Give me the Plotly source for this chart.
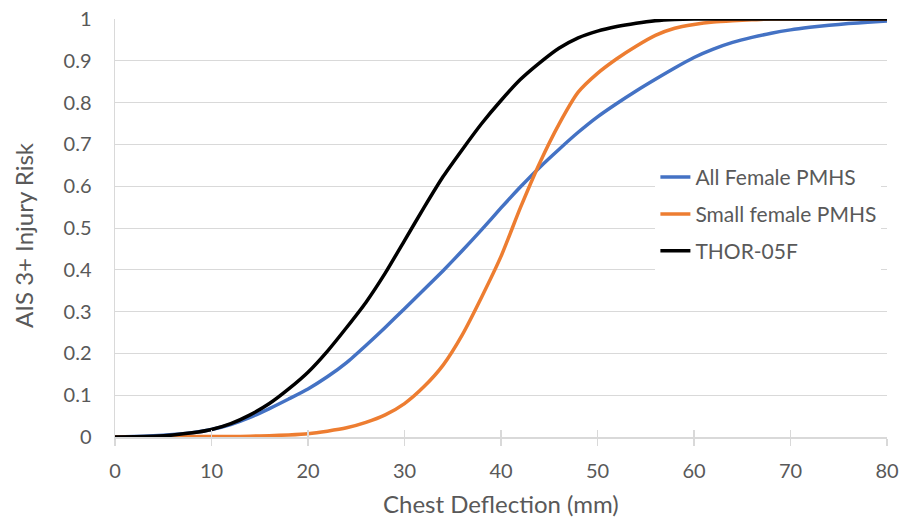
import plotly.graph_objects as go

deflection_mm = [0, 2, 4, 6, 8, 10, 12, 14, 16, 18, 20, 22, 24, 26, 28, 30, 32, 34, 36, 38, 40,
                 42, 44, 46, 48, 50, 52, 54, 56, 58, 60, 62, 64, 66, 68, 70, 72, 74, 76, 78, 80]

all_female_pmhs = [0, 0.001, 0.003, 0.006, 0.010, 0.018, 0.030, 0.047, 0.068, 0.091, 0.115, 0.144,
                   0.178, 0.219, 0.262, 0.307, 0.352, 0.398, 0.446, 0.496, 0.548,
                   0.598, 0.645, 0.688, 0.729, 0.766, 0.798, 0.828, 0.856, 0.883, 0.908, 0.928,
                   0.944, 0.956, 0.966, 0.974, 0.980, 0.985, 0.989, 0.992, 0.995]

small_female_pmhs = [0, 0, 0, 0.0005, 0.001, 0.001, 0.001, 0.002, 0.003, 0.005, 0.008, 0.014,
                     0.022, 0.035, 0.053, 0.080, 0.120, 0.172, 0.245, 0.335, 0.432,
                     0.548, 0.655, 0.748, 0.825, 0.870, 0.905, 0.935, 0.961, 0.978, 0.987, 0.993,
                     0.996, 0.998, 1.0, 1.0, 1.0, 1.0, 1.0, 1.0, 1.0]

thor_05f = [0, 0.0005, 0.002, 0.005, 0.010, 0.018, 0.032, 0.053, 0.080, 0.115, 0.155, 0.205,
            0.262, 0.322, 0.392, 0.470, 0.548, 0.623, 0.688, 0.750, 0.805,
            0.855, 0.895, 0.930, 0.955, 0.971, 0.982, 0.990, 0.996, 0.999, 1.0, 1.0,
            1.0, 1.0, 1.0, 1.0, 1.0, 1.0, 1.0, 1.0, 1.0]

series_names = ["All Female PMHS", "Small female PMHS", "THOR-05F"]
series_colors = ["#4472C4", "#ED7D31", "#000000"]

x_tickvals = [0, 10, 20, 30, 40, 50, 60, 70, 80]
y_tickvals = [0, 0.1, 0.2, 0.3, 0.4, 0.5, 0.6, 0.7, 0.8, 0.9, 1]
y_ticktext = ["0", "0.1", "0.2", "0.3", "0.4", "0.5", "0.6", "0.7", "0.8", "0.9", "1"]

FONT = "Lato, 'Open Sans', sans-serif"
TXT = "#595959"
GRID = "#D9D9D9"

fig = go.Figure()
for name, ys, col in zip(series_names, [all_female_pmhs, small_female_pmhs, thor_05f], series_colors):
    fig.add_trace(go.Scatter(
        x=deflection_mm, y=ys, mode="lines", name=name, legendgroup=name,
        line=dict(color=col, width=3.5, shape="spline", smoothing=0.6),
    ))

# invisible trace on overlay axis to carry inside ticks (crossing tick marks)
fig.add_trace(go.Scatter(x=[0, 80], y=[0, 1], xaxis="x2", mode="lines",
                         line=dict(width=0), showlegend=False, hoverinfo="skip"))

fig.update_layout(
    width=901, height=519,
    margin=dict(l=115, r=14, t=19, b=82, autoexpand=False),
    paper_bgcolor="white", plot_bgcolor="white",
    font=dict(family=FONT, color=TXT, size=20),
    showlegend=True,
    legend=dict(x=0.70, y=0.67, xanchor="left", yanchor="top",
                bgcolor="white", borderwidth=0, tracegroupgap=6.5,
                font=dict(family=FONT, size=21, color=TXT)),
    xaxis=dict(range=[0, 80], tickvals=x_tickvals, showgrid=False, zeroline=False,
               showline=True, linecolor=GRID, linewidth=1.5, automargin=False,
               ticks="outside", ticklen=7, tickcolor=GRID, tickwidth=1.5,
               ticklabelstandoff=8, ticklabeloverflow="allow",
               tickfont=dict(size=20, color=TXT), fixedrange=True),
    xaxis2=dict(range=[0, 80], tickvals=x_tickvals, overlaying="x", side="bottom",
                showgrid=False, zeroline=False, showline=False, showticklabels=False,
                automargin=False,
                ticks="inside", ticklen=7, tickcolor=GRID, tickwidth=1.5),
    yaxis=dict(range=[0, 1], tickvals=y_tickvals, ticktext=y_ticktext,
               showgrid=True, gridcolor=GRID, gridwidth=1, zeroline=False,
               showline=True, linecolor=GRID, linewidth=1.5, ticks="", automargin=False,
               ticklabelstandoff=18, ticklabeloverflow="allow",
               tickfont=dict(size=20, color=TXT)),
    annotations=[
        dict(text="Chest Deflection (mm)", xref="paper", yref="paper", x=0.5, y=0,
             yshift=-66, xanchor="center", yanchor="middle", showarrow=False,
             font=dict(family=FONT, size=24, color=TXT)),
        dict(text="AIS 3+ Injury Risk", xref="paper", yref="paper", x=0, y=0.5,
             xshift=-92, yshift=-7, xanchor="center", yanchor="middle", textangle=-90,
             showarrow=False, font=dict(family=FONT, size=24, color=TXT)),
    ],
)

# remove the default page margin so the 901x519 figure fills the window exactly
fig.write_html("out.html",
               config={"displayModeBar": False, "staticPlot": True},
               post_script="document.body.style.margin='0';document.body.style.overflow='hidden';")
